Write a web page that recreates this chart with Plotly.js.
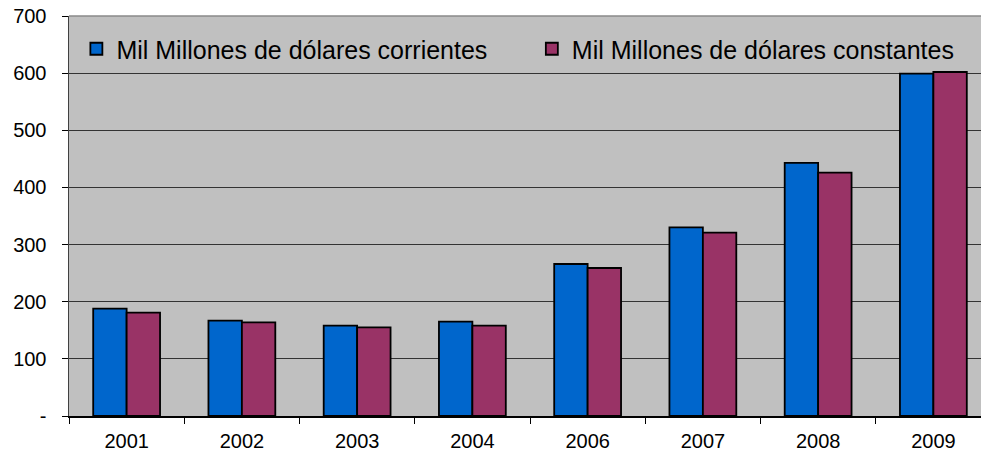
<!DOCTYPE html>
<html>
<head>
<meta charset="utf-8">
<script src="https://cdn.plot.ly/plotly-3.0.1.min.js"></script>
<style>html,body{margin:0;padding:0;background:#fff;overflow:hidden;}#chart{width:991px;height:459px;}</style>
</head>
<body>
<div id="chart"></div>
<script>
const years = ['2001','2002','2003','2004','2006','2007','2008','2009'];
const corrientes = [188, 167, 158, 165, 266, 330, 443, 599];
const constantes = [181, 164, 155, 158, 259, 321, 426, 602];
const nameCorrientes = 'Mil Millones de dólares corrientes';
const nameConstantes = 'Mil Millones de dólares constantes';
const yTickVals = [0, 100, 200, 300, 400, 500, 600, 700];
const yTickText = ['-', '100', '200', '300', '400', '500', '600', '700'];

const data = [
  {type:'bar', x: years, y: corrientes, name: nameCorrientes, legend: 'legend',
   marker:{color:'#0066CC', line:{color:'#000000', width:1.8}}},
  {type:'bar', x: years, y: constantes, name: nameConstantes, legend: 'legend2',
   marker:{color:'#993366', line:{color:'#000000', width:1.8}}}
];

const legendCommon = {
  orientation: 'h', xanchor: 'left', y: 0.975, yanchor: 'top',
  bgcolor: 'rgba(0,0,0,0)', font: {size: 25, color:'#000000'}
};

const layout = {
  width: 991, height: 459,
  margin: {l:69, r:0, t:16, b:43, pad:0},
  paper_bgcolor: '#ffffff',
  plot_bgcolor: '#C0C0C0',
  font: {family: '"Liberation Sans", Arial, sans-serif', color:'#000000', size:20},
  barmode: 'group',
  bargap: 0.42,
  bargroupgap: 0,
  showlegend: true,
  legend: Object.assign({}, legendCommon, {x: 0.008}),
  legend2: Object.assign({}, legendCommon, {x: 0.502}),
  xaxis: {
    type: 'category', tickson: 'boundaries', ticks: 'outside', ticklen: 6,
    tickcolor: '#000000', showline: true, linecolor: '#000000', linewidth: 2,
    showgrid: false, tickfont: {size: 20}, ticklabelstandoff: 6, fixedrange: true
  },
  yaxis: {
    range: [0, 700], tickvals: yTickVals, ticktext: yTickText,
    ticks: 'outside', ticklen: 6, tickcolor: '#000000',
    showline: true, linecolor: '#404040', linewidth: 1.5,
    showgrid: true, gridcolor: '#333333', gridwidth: 1,
    zeroline: false, tickfont: {size: 20}, ticklabelstandoff: 11, fixedrange: true
  },
  shapes: [
    {type:'line', xref:'paper', yref:'paper', x0:0, x1:1, y0:1, y1:1,
     line:{color:'#8a8a8a', width:1.5}, layer:'above'}
  ]
};

Plotly.newPlot('chart', data, layout, {displayModeBar:false, staticPlot:true});
</script>
</body>
</html>
